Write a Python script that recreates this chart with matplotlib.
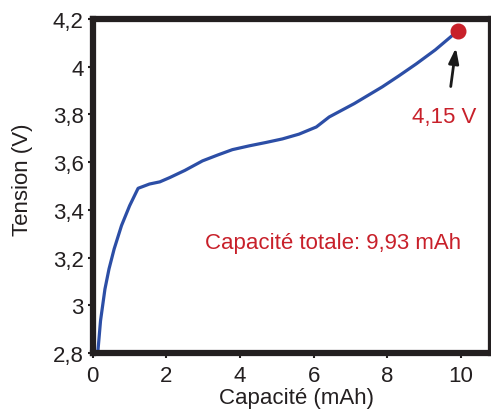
import matplotlib
matplotlib.use("Agg")
import matplotlib.pyplot as plt

plt.rcParams['font.family'] = ['Liberation Sans', 'DejaVu Sans']

# courbe de charge
capacite = [0.12, 0.14, 0.21, 0.33, 0.44, 0.58, 0.78, 1.00, 1.23, 1.54, 1.82, 2.09,
            2.50, 2.98, 3.40, 3.79, 4.25, 4.70, 5.15, 5.60, 6.07, 6.42, 7.10,
            7.86, 8.30, 8.78, 9.30, 9.76, 9.93]
tension = [2.78, 2.81, 2.935, 3.068, 3.152, 3.236, 3.334, 3.417, 3.490, 3.508, 3.517,
           3.535, 3.565, 3.605, 3.630, 3.652, 3.668, 3.682, 3.697, 3.717, 3.747,
           3.789, 3.845, 3.915, 3.960, 4.011, 4.070, 4.130, 4.150]

x_ticks = [0, 2, 4, 6, 8, 10]
y_ticks = [2.8, 3.0, 3.2, 3.4, 3.6, 3.8, 4.0, 4.2]
y_labels = ['2,8', '3', '3,2', '3,4', '3,6', '3,8', '4', '4,2']

point_final = (9.93, 4.15)

blue = '#2c4ea6'
red = '#c8202a'
dark = '#231f20'
fs = 16

fig = plt.figure(figsize=(4.91, 4.14), dpi=100)
ax = fig.add_axes([0.189, 0.145, 0.81, 0.807])

ax.plot(capacite, tension, color=blue, lw=2.3, solid_capstyle='butt')
ax.plot(*point_final, 'o', color=red, ms=10.5, clip_on=False, zorder=5)

ax.annotate('', xy=(9.87, 4.09), xytext=(9.71, 3.905),
            arrowprops=dict(arrowstyle='-|>,head_length=0.9,head_width=0.3',
                            color='#1a1a1a', lw=2))
ax.text(9.55, 3.79, '4,15 V', color=red, fontsize=fs, ha='center', va='center')
ax.text(6.53, 3.265, 'Capacité totale: 9,93 mAh', color=red, fontsize=fs,
        ha='center', va='center')

ax.set_xlim(0, 10.8)
ax.set_ylim(2.8, 4.2)
ax.set_xticks(x_ticks)
ax.set_xticklabels([str(t) for t in x_ticks])
ax.set_yticks(y_ticks)
ax.set_yticklabels(y_labels)

for s in ax.spines.values():
    s.set_linewidth(4.5)
    s.set_color(dark)

ax.tick_params(direction='out', length=3.5, width=1.5, labelsize=fs,
               colors=dark)
ax.tick_params(axis='x', pad=5)
ax.tick_params(axis='y', pad=3)
ax.set_xlabel('Capacité (mAh)', fontsize=fs, color=dark)
ax.set_ylabel('Tension (V)', fontsize=fs, color=dark)
ax.yaxis.set_label_coords(-0.151, 0.52)
ax.xaxis.set_label_coords(0.513, -0.103)

fig.savefig('out.png', dpi=100)
